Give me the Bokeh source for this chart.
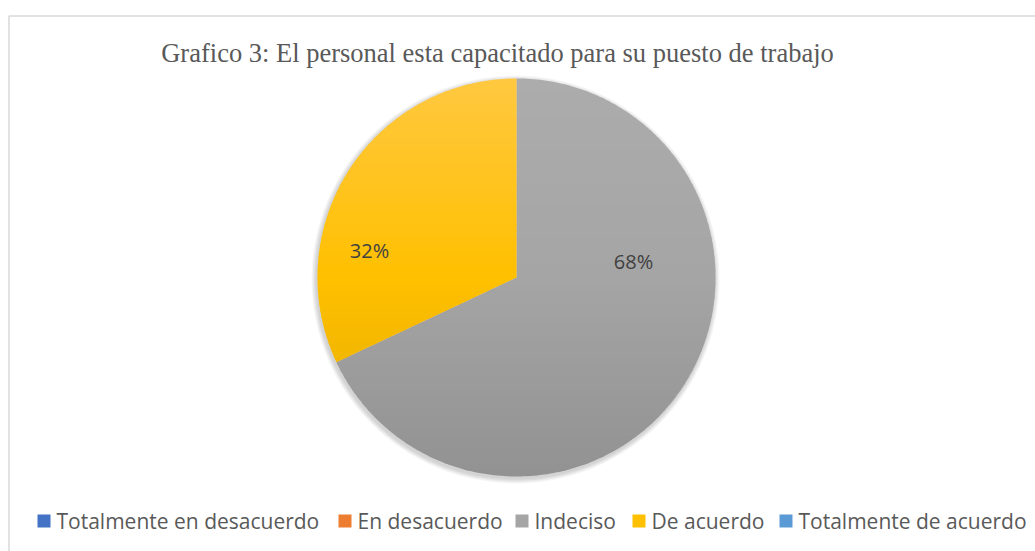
import math
from bokeh.plotting import figure
from bokeh.models import Range1d
from bokeh.core.properties import value
from bokeh.embed import file_html
from bokeh.resources import INLINE

# ---- data ----
title_text = "Grafico 3: El personal esta capacitado para su puesto de trabajo"
categories = ["Totalmente en desacuerdo", "En desacuerdo", "Indeciso", "De acuerdo", "Totalmente de acuerdo"]
values = [0, 0, 68, 32, 0]
colors = ["#4472c4", "#ed7d31", "#a5a5a5", "#ffc000", "#5b9bd5"]
# gradient stops (top, bottom) used for the slice shading; middle is the base colour
grad_top = ["#6f92d6", "#f19a5e", "#acacac", "#ffc840", "#7eb2e0"]
grad_bot = ["#2f5aa8", "#d06010", "#929292", "#e2aa00", "#3a7fc0"]

# ---- layout (data coordinates = screen pixels, y negated) ----
W, H = 1035, 551
p = figure(width=W, height=H, output_backend="svg", toolbar_location=None,
           x_range=Range1d(0, W), y_range=Range1d(-H, 0),
           min_border_left=0, min_border_right=0, min_border_top=0, min_border_bottom=0)
p.axis.visible = False
p.grid.visible = False
p.outline_line_color = None
p.background_fill_color = "white"
p.border_fill_color = "white"

# chart border (left and top visible)
p.line(x=[8.5, 8.5, 1040], y=[-560, -15.5, -15.5], line_color="#d9d9d9", line_width=1.5)

cx, cy, r = 516, -277, 199


def hex2rgb(h):
    h = h.lstrip("#")
    return [int(h[i:i + 2], 16) for i in (0, 2, 4)]


def mix(c1, c2, t):
    a, b = hex2rgb(c1), hex2rgb(c2)
    return "#%02x%02x%02x" % tuple(round(a[i] + (b[i] - a[i]) * t) for i in range(3))


def grad_color(top, mid, bot, t):
    return mix(top, mid, t * 2) if t < 0.5 else mix(mid, bot, (t - 0.5) * 2)


def clip(poly, y0, keep_above):
    out = []
    n = len(poly)
    for i in range(n):
        (x1, y1), (x2, y2) = poly[i], poly[(i + 1) % n]
        in1 = (y1 >= y0) if keep_above else (y1 <= y0)
        in2 = (y2 >= y0) if keep_above else (y2 <= y0)
        if in1:
            out.append((x1, y1))
        if in1 != in2:
            t = (y0 - y1) / (y2 - y1)
            out.append((x1 + t * (x2 - x1), y0))
    return out


# soft shadow
for k in range(5):
    p.circle(x=cx - 1, y=cy - 2, radius=r + 5 - k, fill_color="#000000", fill_alpha=0.035, line_color=None)

total = sum(values)
start = math.pi / 2
nb = 60
xs, ys, fc = [], [], []
for c, v, col, gt, gb in zip(categories, values, colors, grad_top, grad_bot):
    if v == 0:
        continue
    ang = 2 * math.pi * v / total
    s, e = start, start - ang
    npts = max(8, int(ang * 60))
    sector = [(cx, cy)] + [(cx + r * math.cos(s + (e - s) * i / npts), cy + r * math.sin(s + (e - s) * i / npts))
                           for i in range(npts + 1)]
    for b in range(nb):
        ytop = cy + r - 2 * r * b / nb
        ybot = cy + r - 2 * r * (b + 1) / nb - 0.6
        poly = clip(clip(sector, ytop + 0.6, False), ybot, True)
        if len(poly) < 3:
            continue
        xs.append([pt[0] for pt in poly])
        ys.append([pt[1] for pt in poly])
        fc.append(grad_color(gt, col, gb, (b + 0.5) / nb))
    start = e

p.patches(xs=xs, ys=ys, fill_color=fc, line_color=None)

# data labels (Excel best-fit placement, as offsets from the pie centre)
label_offsets = {"Indeciso": (117, -16), "De acuerdo": (-147, -27)}
for c, v in zip(categories, values):
    if v == 0:
        continue
    dx, dy = label_offsets[c]
    p.text(x=[cx + dx], y=[cy - dy], text=[f"{round(100 * v / total)}%"], text_font=value("Open Sans"),
           text_font_size="20px", text_color="#404040", text_align="center", text_baseline="alphabetic")

# title
p.text(x=[497], y=[-52], text=[title_text], text_font=value("Liberation Serif"),
       text_font_size="26.5px", text_color="#595959", text_align="center", text_baseline="alphabetic")

# legend
leg_x = [37, 338, 515, 632, 779]
sq = 13
for x0, c, col in zip(leg_x, categories, colors):
    p.rect(x=x0 + sq / 2, y=-520.5, width=sq, height=sq, fill_color=col, line_color=None)
    p.text(x=[x0 + sq + 6], y=[-520], text=[c], text_font=value("Open Sans"), text_font_size="21px",
           text_color="#595959", text_align="left", text_baseline="alphabetic")

open("out.html", "w").write(file_html(p, INLINE))
